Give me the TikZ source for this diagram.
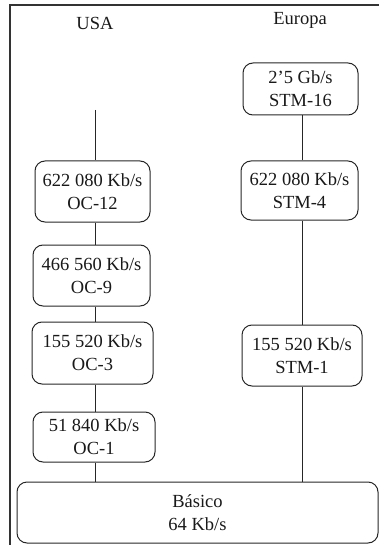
\documentclass[tikz,border=0pt]{standalone}
\usepackage{fontspec}
\setmainfont{Liberation Serif}
\begin{document}
\begin{tikzpicture}[x=1pt,y=1pt,
  every node/.style={font=\fontsize{18.5}{23}\selectfont, text=black!90},
  ratebox/.style={draw=black!85, line width=1pt, rounded corners=10pt, inner sep=0pt, align=center},
  link/.style={draw=black!85, line width=1pt},
  frame/.style={draw=black!80, line width=1.3pt}]
\useasboundingbox (0,0) rectangle (379,-545);
\draw[frame] (379,-5) -- (10,-5) -- (10,-545);
\node (usa) at (95,-23) {USA};
\node (eur) at (300,-20) {Europa};
% USA column
\node[ratebox, minimum width=115pt, minimum height=61pt] (oc12) at (92.5,-191.5) {622 080 Kb/s\\OC-12};
\node[ratebox, minimum width=117pt, minimum height=61pt] (oc9) at (91.5,-275.5) {466 560 Kb/s\\OC-9};
\node[ratebox, minimum width=121pt, minimum height=62pt] (oc3) at (92.5,-353) {155 520 Kb/s\\OC-3};
\node[ratebox, minimum width=122pt, minimum height=50pt] (oc1) at (94,-437) {51 840 Kb/s\\OC-1};
% Europa column
\node[ratebox, minimum width=115pt, minimum height=52pt] (stm16) at (300.5,-89) {2'5 Gb/s\\STM-16};
\node[ratebox, minimum width=117pt, minimum height=59pt] (stm4) at (299.5,-190.5) {622 080 Kb/s\\STM-4};
\node[ratebox, minimum width=120pt, minimum height=61pt] (stm1) at (302,-355.5) {155 520 Kb/s\\STM-1};
% base
\node[ratebox, minimum width=361pt, minimum height=61pt] (bas) at (197.5,-512.5) {Básico\\64 Kb/s};
% connectors
\coordinate (ux) at (95,-110);
\coordinate (ex) at (302,-115);
\draw[link] (ux) -- (ux |- oc12.north);
\draw[link] (oc12.south -| ux) -- (oc9.north -| ux);
\draw[link] (oc9.south -| ux) -- (oc3.north -| ux);
\draw[link] (oc3.south -| ux) -- (oc1.north -| ux);
\draw[link] (oc1.south -| ux) -- (bas.north -| ux);
\draw[link] (stm16.south -| ex) -- (stm4.north -| ex);
\draw[link] (stm4.south -| ex) -- (stm1.north -| ex);
\draw[link] (stm1.south -| ex) -- (bas.north -| ex);
\end{tikzpicture}
\end{document}
